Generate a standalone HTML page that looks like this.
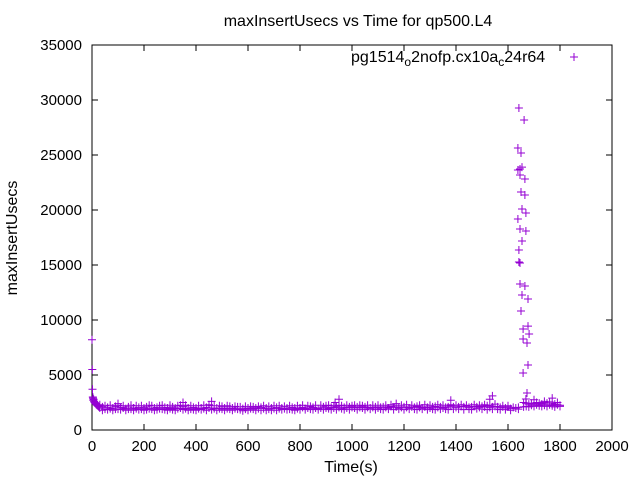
<!DOCTYPE html>
<html><head><meta charset="utf-8"><style>
html,body{margin:0;padding:0;background:#fff}
svg{display:block;font-family:"Liberation Sans",sans-serif}
</style></head><body>
<svg id="chart" width="640" height="480" viewBox="0 0 640 480" xmlns="http://www.w3.org/2000/svg">
<rect x="0" y="0" width="640" height="480" fill="#fff"/>
<text x="358" y="26" font-size="16" text-anchor="middle">maxInsertUsecs vs Time for qp500.L4</text>
<text x="17" y="238" font-size="16" text-anchor="middle" transform="rotate(-90 17 238)">maxInsertUsecs</text>
<text x="351" y="472" font-size="16" text-anchor="middle">Time(s)</text>
<g id="axes"></g>
<g id="marks"></g>
<g>
<text x="351" y="62" font-size="16">pg1514<tspan font-size="12" dy="4">o</tspan><tspan dy="-4">2nofp.cx10a</tspan><tspan font-size="12" dy="4">c</tspan><tspan dy="-4">24r64</tspan></text>
<path d="M570 57h8M574 53v8" stroke="#9400d3" stroke-width="1"/>
</g>
</svg>
<script>
const xTicks=[0,200,400,600,800,1000,1200,1400,1600,1800,2000];
const yTicks=[0,5000,10000,15000,20000,25000,30000,35000];
const earlyT=[0,1,2,3,4,5,6,8,10,12,14,16,18,20,22,25,28];
const earlyV=[8200,5500,3700,3000,2900,2700,2800,2600,2500,2450,2400,2350,2300,2250,2200,2150,2100];
const baseT=[30,40,50,60,70,80,90,100,110,120,130,140,150,160,170,180,190,200,210,220,230,240,250,260,270,280,290,300,310,320,330,340,350,360,370,380,390,400,410,420,430,440,450,460,470,480,490,500,510,520,530,540,550,560,570,580,590,600,610,620,630,640,650,660,670,680,690,700,710,720,730,740,750,760,770,780,790,800,810,820,830,840,850,860,870,880,890,900,910,920,930,940,950,960,970,980,990,1000,1010,1020,1030,1040,1050,1060,1070,1080,1090,1100,1110,1120,1130,1140,1150,1160,1170,1180,1190,1200,1210,1220,1230,1240,1250,1260,1270,1280,1290,1300,1310,1320,1330,1340,1350,1360,1370,1380,1390,1400,1410,1420,1430,1440,1450,1460,1470,1480,1490,1500,1510,1520,1530,1540,1550,1560,1570,1580,1590,1600,1610,1620,1630];
const baseV=[2000,2100,1900,2050,1950,2000,2150,1900,2050,2000,1950,2100,1900,2000,1950,2050,1900,2000,2100,1950,1900,2000,2050,1950,1900,2050,2000,1950,2100,2000,1950,2000,2150,1950,2000,1900,2050,2000,1950,2000,1950,2050,2000,2200,1950,2000,1950,1900,2000,1950,1900,2000,1950,1900,1850,1950,1900,2000,1950,1900,2000,1950,2050,1950,2000,1900,2000,1950,2050,1950,2000,1950,2000,1900,2050,2000,1950,2000,2050,1950,2000,1900,2050,2000,1950,2000,2100,2000,1950,2050,2000,2100,2050,1950,2050,2000,2100,2050,2000,2100,2050,2000,2100,2050,2000,2050,2100,2000,2050,2100,2050,2000,2150,2050,2100,2000,2050,2100,2050,2000,2100,2050,2150,2050,2000,2100,2050,2000,2100,2150,2050,2100,2000,2050,2100,2200,2100,2050,2100,2150,2100,2200,2050,2100,2150,2100,2050,2150,2100,2200,2050,2100,2150,2100,2050,2100,2000,2100,1950,2050,2000];
const baseV2=[2300,1800,2200,1850,2250,1800,1900,2250,1850,2200,1800,1900,2250,1800,2200,1850,2200,1800,1850,2250,2200,1800,1850,2200,2250,1850,1800,2250,1850,1800,2200,2250,1850,2250,1800,2200,1850,1800,2200,1850,2250,1800,2300,1850,2200,1800,2200,2150,1800,2200,2150,1800,2150,2100,2100,1750,2150,1800,2150,2100,1800,2150,1800,2200,1800,2150,1800,2200,1800,2200,1850,2150,1850,2200,1850,1800,2200,1850,2250,1850,2200,2150,1850,2250,1850,2250,1850,2200,2250,1850,2200,1850,2250,2200,1850,2250,1850,2200,2250,1850,2250,2200,1850,2250,1900,2250,1850,2250,1900,1850,2250,1900,2300,1850,2250,1900,2250,1850,2300,1900,2250,1900,1850,2250,1900,2300,1850,2250,1900,1850,2300,1900,2250,1900,1850,2300,1900,2250,1900,2300,1850,2250,1900,1850,2300,1950,2250,1900,2300,1850,2250,1900,2350,1900,1850,2200,1850,2200,1800];
const extraT=[100,350,460,935,950,1170,1380,1530,1540];
const extraV=[2400,2500,2600,2500,2800,2400,2700,2800,3100];
const spikeT=[1642,1662,1638,1650,1654,1638,1646,1646,1665,1650,1665,1654,1669,1638,1646,1669,1654,1642,1642,1646,1646,1665,1654,1677,1650,1658,1677,1681,1658,1673,1677,1658,1673,1669];
const spikeV=[29270,28180,25640,25180,23900,23640,23730,23180,22820,21640,21360,20090,19730,19180,18270,18090,17180,16360,15270,15180,13270,13090,12270,11910,10820,9180,9450,8730,8270,7910,5910,5180,3360,2820];
const lateT=[1640,1660,1670,1680,1690,1700,1710,1720,1730,1740,1750,1760,1770,1780,1790,1800];
const lateV=[1900,2100,2400,2350,2250,2400,2300,2200,2350,2250,2450,2300,2200,2350,2300,2250];
const lateV2=[2050,2500,2150,2100,2450,2150,2500,2450,2150,2500,2150,2550,2450,2100,2500,2150];
const lateExtraT=[1700,1740,1770];
const lateExtraV=[2750,2600,2900];

const X0=92,X1=612,Y0=430,Y1=45;
const xs=t=>X0+(t-0)/2000*(X1-X0);
const ys=v=>Y0-(v/35000)*(Y0-Y1);
const NS="http://www.w3.org/2000/svg";
const axes=document.getElementById('axes');
const marks=document.getElementById('marks');
function mk(tag,attrs,parent){const e=document.createElementNS(NS,tag);for(const k in attrs)e.setAttribute(k,attrs[k]);parent.appendChild(e);return e;}
const frame=mk('rect',{x:X0,y:Y1,width:X1-X0,height:Y0-Y1,fill:'none',stroke:'#000','stroke-width':1},axes);


xTicks.forEach(t=>{
  const x=xs(t);
  const l=mk('path',{d:`M${x} ${Y0}v-6M${x} ${Y1}v6`,stroke:'#000','stroke-width':1},axes);
  
  
  const tx=mk('text',{x:x,y:Y0+21,'font-size':15,'text-anchor':'middle'},axes);
  tx.textContent=t;
  
  
});
yTicks.forEach(v=>{
  const y=ys(v);
  const l=mk('path',{d:`M${X0} ${y}h6M${X1} ${y}h-6`,stroke:'#000','stroke-width':1},axes);
  
  
  const tx=mk('text',{x:X0-10,y:y+5,'font-size':15,'text-anchor':'end'},axes);
  tx.textContent=v;
  
  
});
let d='';
function add(T,V){for(let i=0;i<T.length&&i<V.length;i++){const x=xs(T[i]),y=ys(V[i]);d+=`M${(x-4).toFixed(1)} ${y.toFixed(1)}h8M${x.toFixed(1)} ${(y-4).toFixed(1)}v8`;}}
add(earlyT,earlyV);add(baseT,baseV);add(baseT,baseV2);add(extraT,extraV);
add(spikeT,spikeV);add(lateT,lateV);add(lateT,lateV2);add(lateExtraT,lateExtraV);
const p=mk('path',{d:d,stroke:'#9400d3','stroke-width':1,fill:'none'},marks);


</script>
</body></html>
